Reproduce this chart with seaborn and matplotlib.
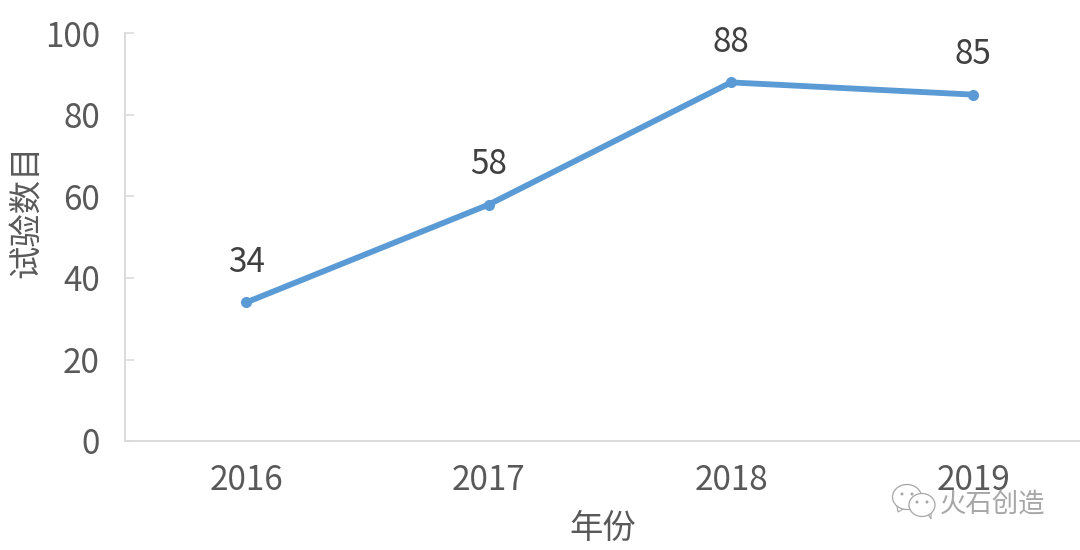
"""Clinical trial count per year, single line chart."""

import matplotlib.pyplot as plt
import numpy as np
import pandas as pd
import seaborn as sns
from matplotlib.patches import Ellipse, Polygon
from matplotlib.transforms import IdentityTransform

YEARS = ["2016", "2017", "2018", "2019"]
TRIALS = [34, 58, 88, 85]
Y_TICKS = [0, 20, 40, 60, 80, 100]

LINE_COLOR = "#5B9BD5"
TICK_COLOR = "#595959"
LABEL_COLOR = "#404040"
AXIS_COLOR = "#D9D9D9"
MARK_COLOR = "#A6A6A6"

sns.set_theme(style="white")
plt.rcParams["font.family"] = ["Noto Sans CJK SC", "DejaVu Sans"]

df = pd.DataFrame({"year": YEARS, "trials": TRIALS})
df["pos"] = np.arange(len(df))

fig = plt.figure(figsize=(10.8, 5.5), dpi=100)
ax = fig.add_axes([125 / 1080, 1 - 441 / 550, (1080 - 125) / 1080, (441 - 33.5) / 550])

sns.lineplot(data=df, x="pos", y="trials", ax=ax, color=LINE_COLOR, linewidth=4.2,
             marker="o", markersize=8, markeredgewidth=0, solid_capstyle="round")

for pos, val in zip(df["pos"], df["trials"]):
    ax.annotate(str(val), (pos, val), xytext=(0, 16), textcoords="offset points",
                ha="center", va="bottom", fontsize=24, color=LABEL_COLOR)

ax.set_xlim(-0.5, 3.44)
ax.set_ylim(0, 100)
ax.set_xticks(df["pos"])
ax.set_xticklabels(YEARS)
ax.set_yticks(Y_TICKS)
ax.tick_params(axis="x", length=0, labelsize=24, labelcolor=TICK_COLOR, pad=15.5)
ax.tick_params(axis="y", left=True, direction="in", length=6.5, width=1.1, color=AXIS_COLOR,
               labelsize=24, labelcolor=TICK_COLOR, pad=18)

ax.set_xlabel("年份", fontsize=24, color=TICK_COLOR, labelpad=9.5)
ax.set_ylabel("试验数目", fontsize=24, color=TICK_COLOR)
ax.yaxis.set_label_coords(-0.0843, 0.563)

sns.despine(ax=ax)
for side in ["left", "bottom"]:
    ax.spines[side].set_color(AXIS_COLOR)
    ax.spines[side].set_linewidth(1.3)

# watermark in the lower right corner, pixel coordinates from the top left
fig.text(1045 / 1080, 1 - 504 / 550, "火石创造", ha="right", va="center",
         fontsize=19, color=MARK_COLOR)

def to_px(x, y):
    return x, 550 - y

px = IdentityTransform()
for (cx, cy, w, h, tail) in [
    (907, 497, 29, 25, [(897, 506), (898, 512), (905, 508)]),
    (922, 505, 26, 23, [(928, 514), (931, 519), (931, 511)]),
]:
    fig.add_artist(Polygon([to_px(*p) for p in tail], closed=True, facecolor="white",
                           edgecolor=MARK_COLOR, linewidth=0.8, transform=px))
    fig.add_artist(Ellipse(to_px(cx, cy), w, h, facecolor="white", edgecolor=MARK_COLOR,
                           linewidth=0.9, transform=px))
    for dx in (-5, 5):
        fig.add_artist(Ellipse(to_px(cx + dx, cy - 3), 3, 3, facecolor=MARK_COLOR,
                               edgecolor="none", transform=px))

fig.savefig("out.png", dpi=100)
plt.close(fig)
